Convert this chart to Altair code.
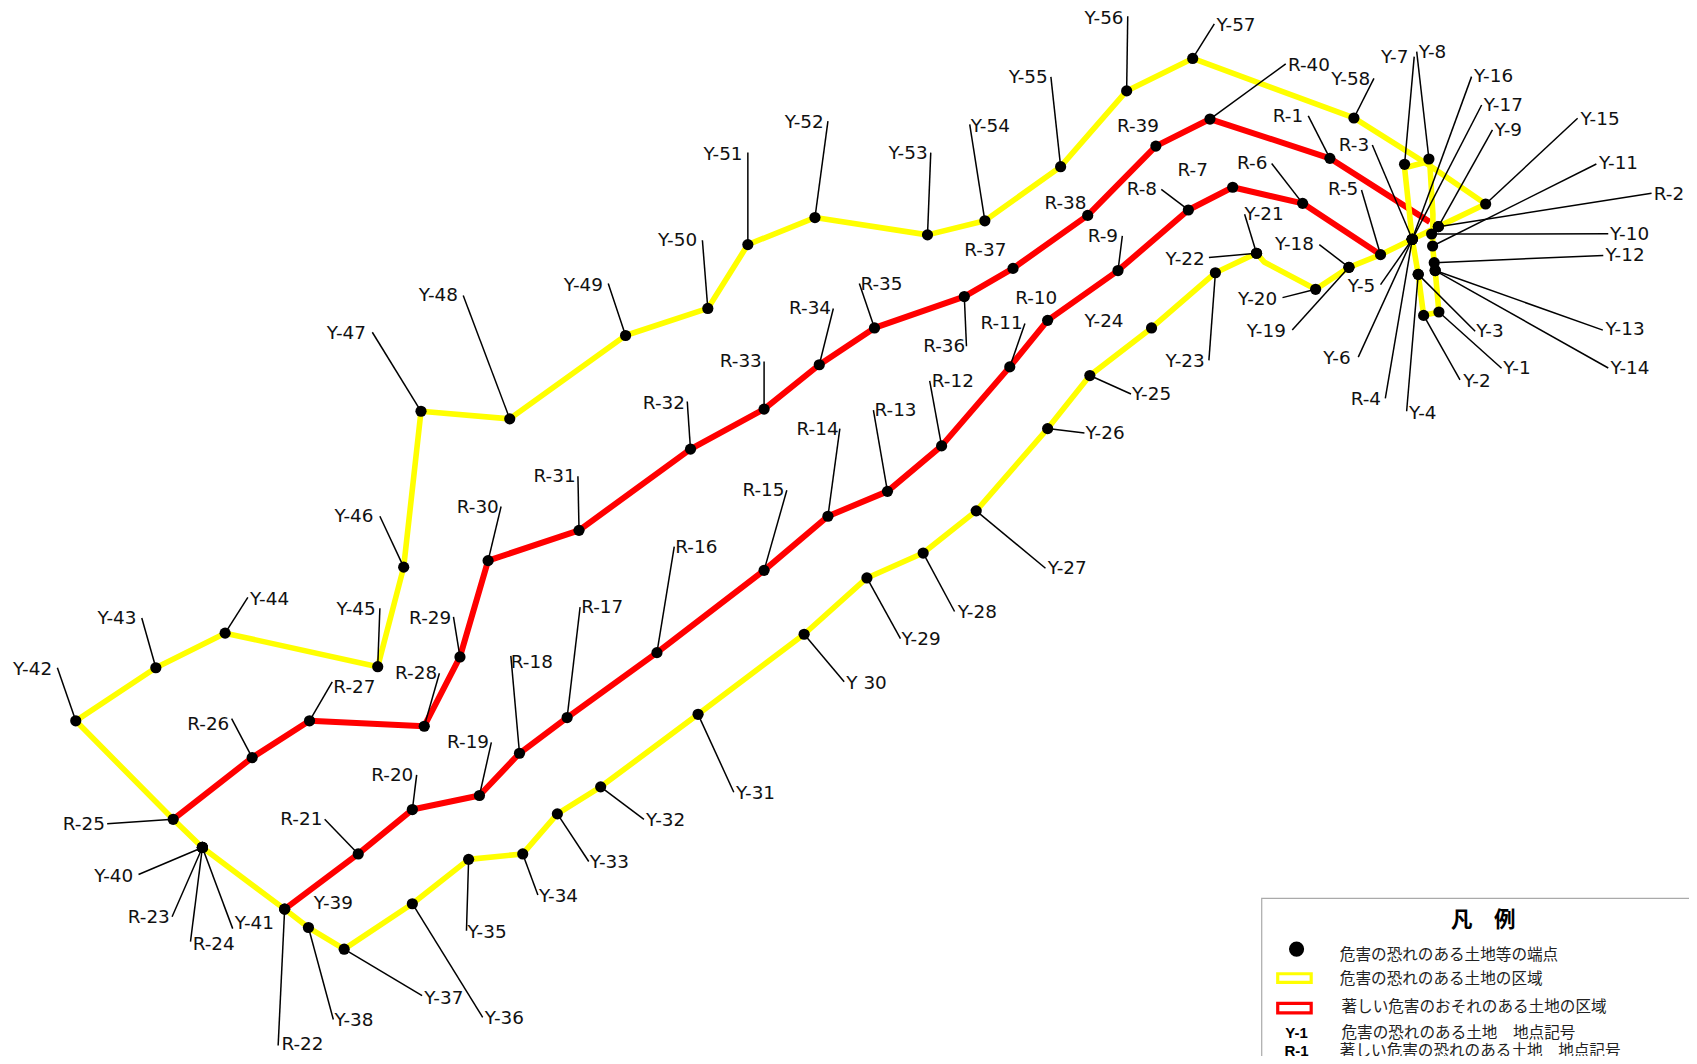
import altair as alt
import pandas as pd

Y_N = ["Y-1","Y-2","Y-3","Y-4","Y-5","Y-6","Y-7","Y-8","Y-9","Y-10","Y-11","Y-12","Y-13","Y-14","Y-15","Y-16","Y-17","Y-18","Y-19","Y-20",
       "Y-21","Y-22","Y-23","Y-24","Y-25","Y-26","Y-27","Y-28","Y-29","Y 30","Y-31","Y-32","Y-33","Y-34","Y-35","Y-36","Y-37","Y-38","Y-39","Y-40",
       "Y-41","Y-42","Y-43","Y-44","Y-45","Y-46","Y-47","Y-48","Y-49","Y-50","Y-51","Y-52","Y-53","Y-54","Y-55","Y-56","Y-57","Y-58"]
Y_PX = [1329.5,1315.4,1310.4,1310.4,1304.9,1304.9,1297.8,1320.3,1329,1322.8,1323.7,1325.2,1326.1,1326.1,1372.7,1304.9,1304.9,1246.4,1246.4,1215.6,
        1161,1161,1123,1064,1007,968,902,853,801,743,645,555,515,483,433,381,318,285,263,187,
        187,70,144,208,349,373,389,471,578,654,691,753,857,910,980,1041,1102,1251]
Y_PY = [288.3,291.4,253.5,253.5,221.1,221.1,151.8,146.9,209.4,216.2,227.3,242.7,250,250,188.5,221.1,221.1,247,247,267.3,
        234,234,252,303,347,396,472,511,534,586,660,727,752,789,794,835,877,857,840,783,
        783,666,617,585,616,524,380,387,310,285,226,201,217,204,154,84,54,109]
Y_EX = [1387.4,1349,1363,1299.7,1275.6,1255,1306.7,1309,1379,1486,1475,1481.4,1481,1486,1457.7,1359.7,1369,1219,1194,1185,
        1150,1117,1117,None,1045,1002,966,882,832,780,678,595,544,497,431,446,390,308,None,128,
        215,53,131,229,351,351,344,428,562,649,691,765,860,896,971,1042,1122,1269.5]
Y_EY = [340.3,351,306,380,263,330,52.3,47.7,120,216,151.5,236,305,340,109.3,70.8,97,226,305,275,
        198,238,333,None,364,400,525,565,590,630,732,757,796,827,860,940,920,942,None,808,
        858,617,571,552,562,477,307,273,262,222,141,112,141,115,71,15,22,72.4]
Y_TX = [1389,1352,1364,1302,1245.4,1222.7,1276,1311,1381,1487.6,1477.4,1483.5,1483.5,1488,1460.4,1362,1371,1178,1152,1144,
        1150,1077,1077,1002,1046,1003,968,885,833,782,680,597,545,498,432,448,392,309,290,87,
        217,12,90,231,311,309,302,387,521,608,650,725,821,897,932,1002,1124,1230]
Y_TY = [340,352,306,382,264,331,53,47.7,120,216,151,236,304,340,110,70,97,225,306,276,
        198,239,334,297,364,400,525,565,590,631,733,758,796,828,861,941,922,942,834,809,
        853,618,571,553,563,477,308,273,263,222,142,113,141,116,71,17,23,73]

R_N = ["R-"+str(i) for i in range(1, 41)]
R_PX = [1228.8,1329,1304.9,1304.9,1275.6,1203.6,1139,1098,1033,968,933,870,820,765,706,607,524,480,443,381,
        331,263,187,187,160,233,286,392,425,451,535,638,706,757,808,891,936,1005,1068,1118]
R_PY = [146.3,209.4,221.1,221.1,235.3,187.9,173,194,250,296,339,412,454,477,527,603,663,696,735,748,
        789,840,783,783,757,700,666,671,607,518,490,415,378,337,303,274,248,199,135,110]
R_EX = [1208.8,1526,1268,1280,1258,1175,None,1073,1037,None,947,859,807,776,727,623,536,472,454,385,
        300,257,159,176,99,214,307,406,419,463,534,635,706,770,794,893,None,None,None,1188]
R_EY = [107,178.6,134,368,175.5,151,None,175,218,None,299,352,379,396,453,505,561,606,686,716,
        757,966,847,870,761,664,630,622,570,468,440,371,334,285,262,320,None,None,None,59]
R_TX = [1176,1528,1237,1248,1227,1143,1088,1041,1005,938,906,861,808,736,686,624,537,472,413,343,
        259,260,118,178,58,173,308,365,378,422,493,594,665,729,795,853,891,965,1032,1190]
R_TY = [107,179,134,369,175,151,157,175,218,275,298,352,379,396,453,505,561,612,686,716,
        757,965,847,872,761,669,635,622,571,468,440,372,334,285,262,320,231,188,116,60]

YELLOW_MAIN_X = [70,144,208,349,373,389,471,578,654,691,753,857,910,980,1041,1102,1251,1321,1372.7,1329,1304.9,1275.6,1246.4,1215.6,1168,1161,1123,1064,1007,968,902,853,801,743,645,555,515,483,433,381,318,285,263,187,160,70]
YELLOW_MAIN_Y = [666,617,585,616,524,380,387,310,285,226,201,217,204,154,84,54,109,153,188.5,209.4,221.1,235.3,247,267.3,242,234,252,303,347,396,472,511,534,586,660,727,752,789,794,835,877,857,840,783,757,666]
YELLOW_LOOP_X = [1297.8,1321,1324,1323.7,1325.2,1326.1,1329.5,1315.4,1310.4,1304.9,1297.8]
YELLOW_LOOP_Y = [155,149,198,227.3,242.7,250,288.3,291.4,253.5,221.1,155]
RED_A_X = [160,233,286,392,425,451,535,638,706,757,808,891,936,1005,1068,1118,1228.8,1321]
RED_A_Y = [757,700,666,671,607,518,490,415,378,337,303,274,248,199,135,110,146.3,205]
RED_B_X = [263,331,381,443,480,524,607,706,765,820,870,933,968,1033,1098,1139,1203.6,1275.6]
RED_B_Y = [840,789,748,735,696,663,603,527,477,454,412,339,296,250,194,173,187.9,235.3]

LEG_ROWS = ["危害の恐れのある土地等の端点","危害の恐れのある土地の区域","著しい危害のおそれのある土地の区域","危害の恐れのある土地　地点記号","著しい危害の恐れのある土地　地点記号"]
LEG_ROW_X = [1238,1238,1239.5,1239.5,1238]
LEG_ROW_Y = [882.4,904.9,930,954,971.5]
LEG_KEY = ["Y-1","R-1"]
LEG_KEY_Y = [954,971.5]

FONT = "Noto Sans CJK JP"
X = alt.Scale(domain=[7.39, 1560.6], nice=False, zero=False)
Y = alt.Scale(domain=[975.7, 7.39], nice=False, zero=False)
xe = lambda f="x": alt.X(f"{f}:Q", scale=X, axis=None)
ye = lambda f="y": alt.Y(f"{f}:Q", scale=Y, axis=None)

def path(xs, ys, color, w):
    df = pd.DataFrame({"x": xs, "y": ys, "o": range(len(xs))})
    return alt.Chart(df).mark_line(color=color, strokeWidth=w, strokeJoin="round", clip=False).encode(
        x=xe(), y=ye(), order="o:Q")

pts = pd.DataFrame({"n": Y_N + R_N, "x": Y_PX + R_PX, "y": Y_PY + R_PY,
                    "ex": Y_EX + R_EX, "ey": Y_EY + R_EY,
                    "tx": Y_TX + R_TX, "ty": Y_TY + R_TY})
lead = pts.dropna(subset=["ex", "ey"])

leaders = alt.Chart(lead).mark_rule(color="black", strokeWidth=1.5).encode(
    x=xe(), y=ye(), x2="ex:Q", y2="ey:Q")
dots = alt.Chart(pts).mark_circle(color="black", opacity=1, size=125).encode(x=xe(), y=ye())
labels = alt.Chart(pts).mark_text(font="DejaVu Sans", fontSize=18.4, align="left", baseline="middle", color="#111").encode(
    x=xe("tx"), y=ye("ty"), text="n:N")

box = alt.Chart(pd.DataFrame({"x": [1165.8], "x2": [1600], "y": [830], "y2": [1010]})).mark_rect(
    fill="white", stroke="#aaaaaa", strokeWidth=1.2).encode(x=xe(), x2="x2:Q", y=ye(), y2="y2:Q")
title = alt.Chart(pd.DataFrame({"x": [1370.5], "y": [851], "t": ["凡　例"]})).mark_text(
    font=FONT, fontSize=21.5, fontWeight="bold", align="center", baseline="middle", color="black").encode(
    x=xe(), y=ye(), text="t:N")
leg_dot = alt.Chart(pd.DataFrame({"x": [1198], "y": [876.9]})).mark_circle(color="black", opacity=1, size=230).encode(x=xe(), y=ye())
leg_rect = alt.Chart(pd.DataFrame({"x": [1180.6, 1180.6], "x2": [1211.5, 1211.5], "y": [899.7, 927], "y2": [907.6, 935.9], "c": ["#ffff00", "#ff0000"]})).mark_rect(
    fill="white", strokeWidth=3.2).encode(x=xe(), x2="x2:Q", y=ye(), y2="y2:Q", stroke=alt.Color("c:N", scale=None))
leg_text = alt.Chart(pd.DataFrame({"x": LEG_ROW_X, "y": LEG_ROW_Y, "t": LEG_ROWS})).mark_text(
    font=FONT, fontSize=15.6, align="left", baseline="middle", color="#222").encode(x=xe(), y=ye(), text="t:N")
leg_key = alt.Chart(pd.DataFrame({"x": [1198, 1198], "y": LEG_KEY_Y, "t": LEG_KEY})).mark_text(
    font="Liberation Sans", fontSize=15, fontWeight="bold", align="center", baseline="middle", color="black").encode(
    x=xe(), y=ye(), text="t:N")

chart = alt.layer(
    path(RED_A_X, RED_A_Y, "#ff0000", 6),
    path(RED_B_X, RED_B_Y, "#ff0000", 6),
    path(YELLOW_MAIN_X, YELLOW_MAIN_Y, "#ffff00", 5.6),
    path(YELLOW_LOOP_X, YELLOW_LOOP_Y, "#ffff00", 5.6),
    leaders, dots, labels,
    box, title, leg_dot, leg_rect, leg_text, leg_key,
).properties(width=1681, height=1048, padding=0,
             autosize=alt.AutoSizeParams(type="none"),
             background="white").configure_view(stroke=None)

chart.save("out.html", embed_options={"renderer": "svg", "actions": False})
